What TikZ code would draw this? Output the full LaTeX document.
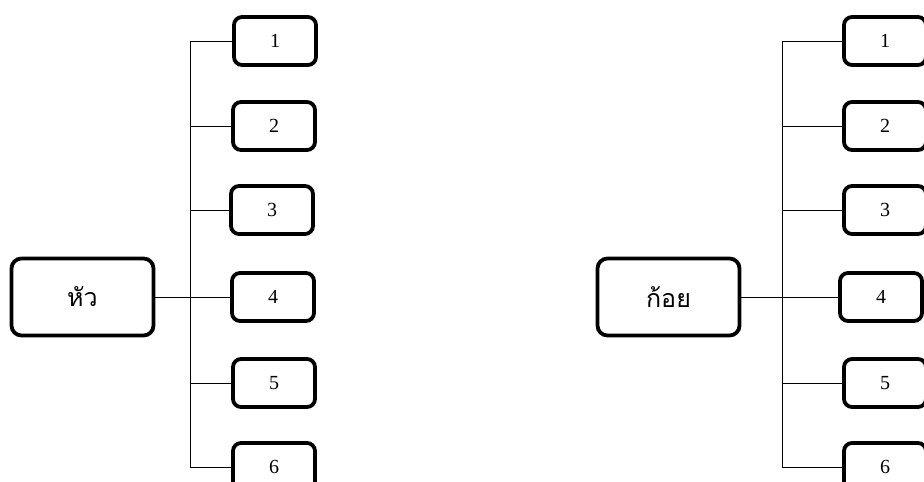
\documentclass[tikz,border=0pt]{standalone}
\usepackage{fontspec}
\setmainfont{Liberation Serif}
\newfontfamily\thaifont[Script=Thai]{Loma}
\tikzset{
  rootbox/.style={draw, line width=3.8pt, rounded corners=10pt,
    minimum width=142pt, minimum height=77pt,
    font=\thaifont\fontsize{25}{30}\selectfont},
  leafbox/.style={draw, line width=3.8pt, rounded corners=8pt,
    minimum width=82pt, minimum height=48pt,
    font=\fontsize{20}{24}\selectfont},
  link/.style={line width=1pt}
}
\begin{document}
\begin{tikzpicture}[x=1pt, y=-1pt]
    \useasboundingbox (0,0) rectangle (924,482);

    % Left tree
    \node[rootbox] (hua) at (82.5,297) {หัว};
    \coordinate (hspine) at (190,0);
    \foreach \i/\x/\y in {1/275/41, 2/274/126, 3/272/210, 4/273/297, 5/274/383, 6/274/467} {
        \node[leafbox] (h\i) at (\x,\y) {\i};
        \draw[link] (hspine |- h\i.west) -- (h\i.west);
    }
    \draw[link] (hspine |- h1.west) -- (hspine |- h6.west);
    \draw[link] (hua.east) -- (hspine |- hua.east);

    % Right tree
    \node[rootbox] (koi) at (668.5,297) {ก้อย};
    \coordinate (kspine) at (782,0);
    \foreach \i/\x/\y in {1/885/41, 2/885/126, 3/885/210, 4/881/297, 5/885/383, 6/885/467} {
        \node[leafbox] (k\i) at (\x,\y) {\i};
        \draw[link] (kspine |- k\i.west) -- (k\i.west);
    }
    \draw[link] (kspine |- k1.west) -- (kspine |- k6.west);
    \draw[link] (koi.east) -- (kspine |- koi.east);
\end{tikzpicture}
\end{document}
